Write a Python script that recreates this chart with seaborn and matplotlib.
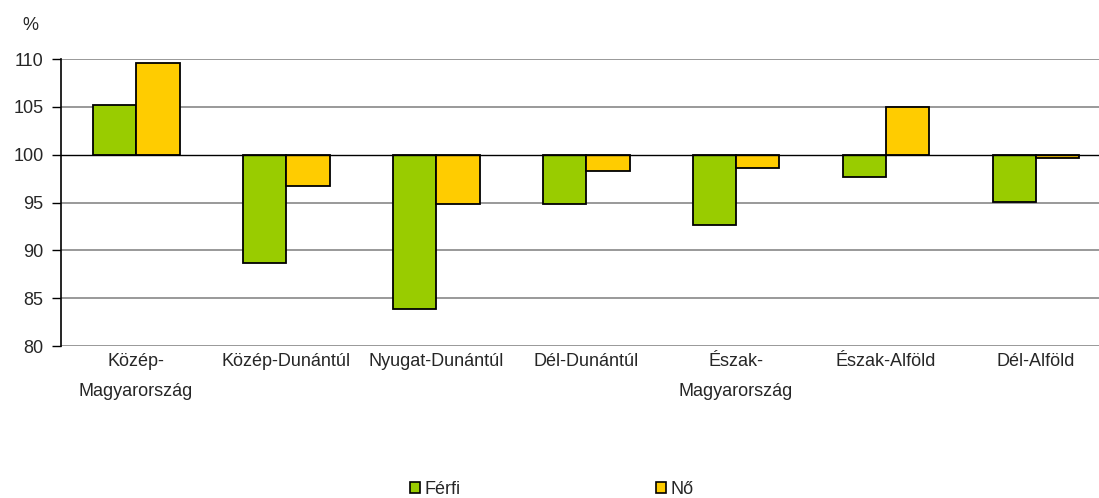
import matplotlib
matplotlib.use("Agg")
import matplotlib.pyplot as plt
from matplotlib.patches import Patch
import pandas as pd
import seaborn as sns

# Region labels (x axis) and index values (previous = 100)
regions = [
    "Közép-\nMagyarország",
    "Közép-Dunántúl",
    "Nyugat-Dunántúl",
    "Dél-Dunántúl",
    "Észak-\nMagyarország",
    "Észak-Alföld",
    "Dél-Alföld",
]
ferfi = [105.2, 88.7, 83.9, 94.8, 92.7, 97.7, 95.1]
no = [109.6, 96.7, 94.8, 98.3, 98.6, 105.0, 99.6]
series_names = ["Férfi", "Nő"]
colors = ["#99CC00", "#FFCC00"]
baseline = 100
yticks = [80, 85, 90, 95, 100, 105, 110]

sns.set_style("white")
plt.rcParams["font.family"] = ["Liberation Sans", "DejaVu Sans"]
FS = 13

df = pd.DataFrame({
    "region": regions * 2,
    "sex": [series_names[0]] * len(regions) + [series_names[1]] * len(regions),
    "value": ferfi + no,
})
df["diff"] = df["value"] - baseline

fig = plt.figure(figsize=(10.99, 4.98), dpi=100)
ax = fig.add_axes([61 / 1099, 1 - 346 / 498, 1050 / 1099, 287 / 498])

sns.barplot(data=df, x="region", y="diff", hue="sex", order=regions,
            hue_order=series_names, palette=colors, width=0.58,
            bottom=baseline, edgecolor="black", linewidth=1.3,
            saturation=1, legend=False, ax=ax, zorder=3)

ax.set_ylim(80, 110)
ax.set_xlim(-0.5, len(regions) - 0.5)
ax.set_yticks(yticks)
ax.set_yticklabels([str(t) for t in yticks], fontsize=FS)
for t in yticks:
    if t == baseline:
        ax.axhline(t, color="black", linewidth=1.0, zorder=4)
    else:
        ax.axhline(t, color="#999999", linewidth=1.4, zorder=1)

ax.set_xlabel("")
ax.set_ylabel("")
ax.tick_params(axis="x", length=0, pad=5, labelsize=FS)
ax.tick_params(axis="y", length=6.5, width=1, color="black", direction="out", left=True, pad=6)
for lbl in ax.get_xticklabels():
    lbl.set_linespacing(2.0)
    lbl.set_verticalalignment("top")
for side in ["top", "right", "bottom"]:
    ax.spines[side].set_visible(False)
ax.spines["left"].set_color("black")
ax.spines["left"].set_linewidth(1.2)
ax.spines["left"].set_zorder(5)

fig.text(22 / 1099, 1 - 26 / 498, "%", fontsize=FS, va="center", ha="left")

handles = [Patch(facecolor=c, edgecolor="black", linewidth=1.2, label=n)
           for c, n in zip(colors, series_names)]
fig.legend(handles=handles, loc="center", bbox_to_anchor=(0.502, 1 - 489 / 498),
           ncol=2, frameon=False, fontsize=FS, handlelength=0.55, handleheight=0.55,
           handletextpad=0.25, columnspacing=10.8)

fig.savefig("out.png", dpi=100)
